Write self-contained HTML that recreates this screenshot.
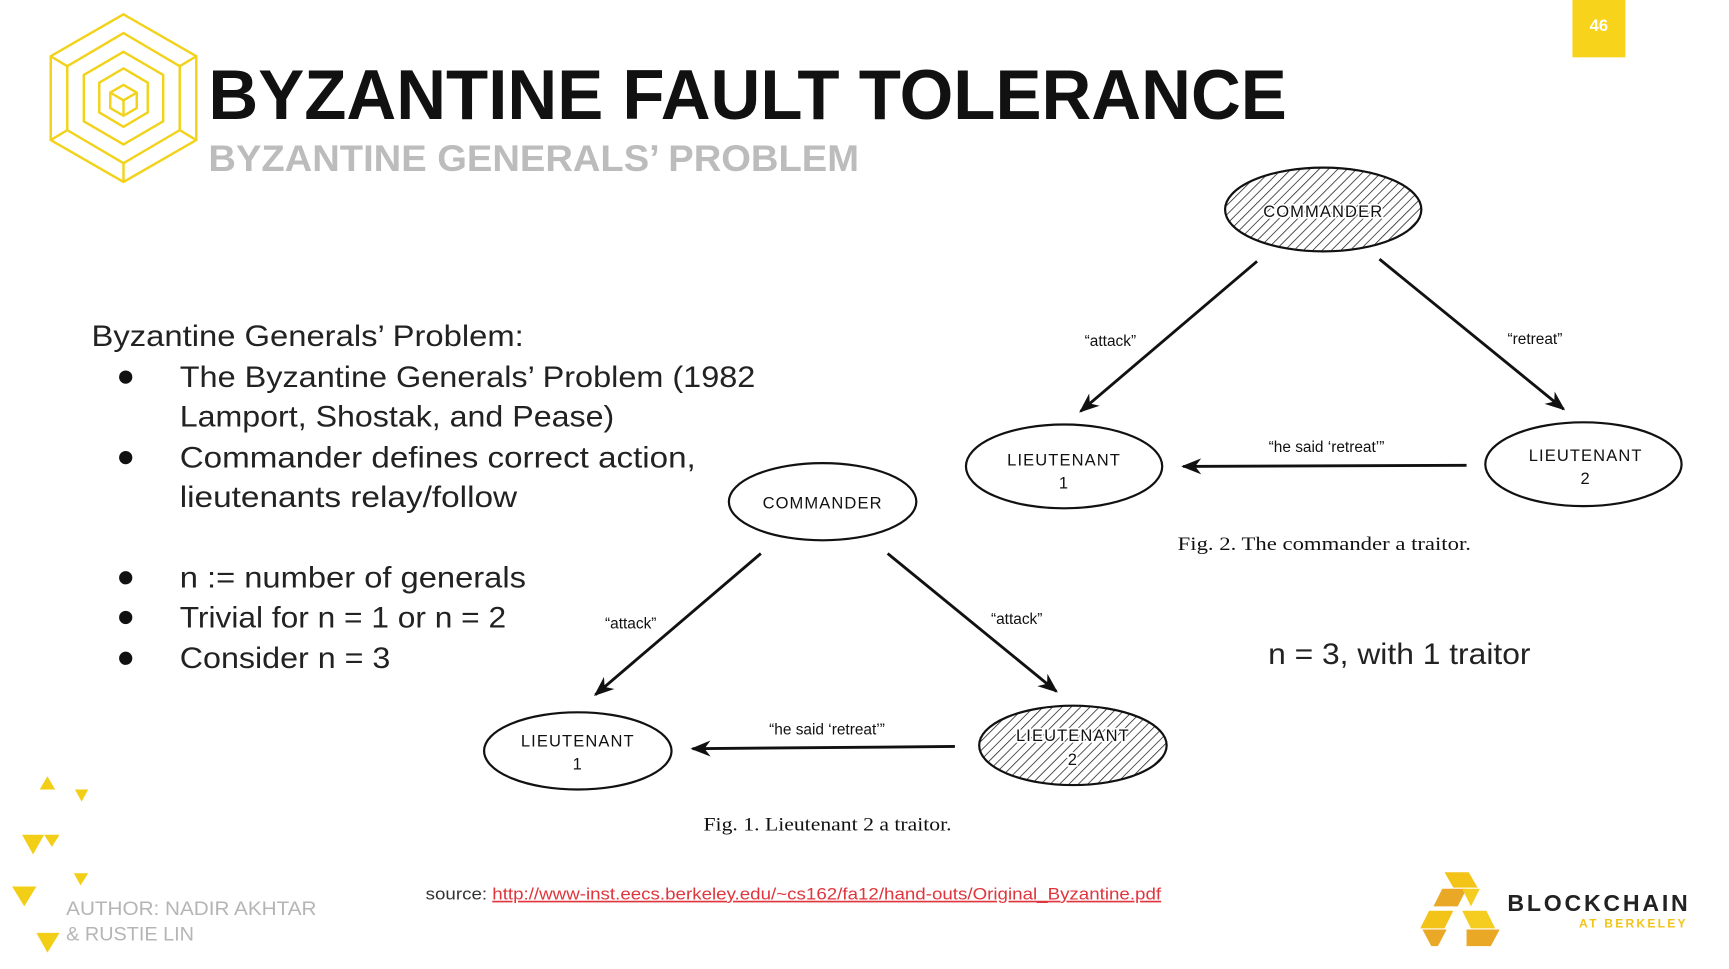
<!DOCTYPE html>
<html><head><meta charset="utf-8"><style>
html,body{margin:0;padding:0;background:#fff;}
svg{display:block;}
</style></head><body>
<svg width="1729" height="969" viewBox="0 0 1568 878.8" preserveAspectRatio="none" xmlns="http://www.w3.org/2000/svg">
<defs>
<pattern id="h" width="6" height="6" patternUnits="userSpaceOnUse" patternTransform="rotate(45)">
<rect width="6" height="6" fill="#fff"/><line x1="0" y1="0" x2="0" y2="6" stroke="#222" stroke-width="1.4"/>
</pattern>
<marker id="a" viewBox="0 0 10 10" refX="9" refY="5" markerWidth="7" markerHeight="7" orient="auto"><path d="M0,1 L10,5 L0,9 L3,5z" fill="#111"/></marker>
</defs>
<rect width="1568" height="880" fill="#fff"/>
<g fill="none" stroke="#f2d21a" stroke-width="2.2">
<polygon points="112,13 178,51 178,127 112,165 46,127 46,51"/>
<polygon points="112,30 163,60 163,118 112,148 61,118 61,60"/>
<polygon points="112,47 148,68 148,110 112,131 76,110 76,68"/>
<polygon points="112,62 134,75 134,102 112,115 90,102 90,75"/>
<polygon points="112,77 124,84 124,98 112,105 100,98 100,84"/>
<path d="M100,84 L112,91 L124,84 M112,91 L112,105"/>
<path d="M46,51 L61,60 M178,51 L163,60 M46,127 L61,118 M178,127 L163,118 M112,165 L112,148"/>
</g>
<text x="189" y="108" font-family="Liberation Sans, sans-serif" font-weight="bold" font-size="64" fill="#111" textLength="978" lengthAdjust="spacingAndGlyphs">BYZANTINE FAULT TOLERANCE</text>
<text x="189" y="155" font-family="Liberation Sans, sans-serif" font-weight="bold" font-size="34" fill="#bcbcbc" textLength="590" lengthAdjust="spacingAndGlyphs">BYZANTINE GENERALS’ PROBLEM</text>
<rect x="1426" y="0" width="48" height="52" fill="#f7d31b"/>
<text x="1450" y="28" text-anchor="middle" font-family="Liberation Sans, sans-serif" font-weight="bold" font-size="15" fill="#fff">46</text>
<g font-family="Liberation Sans, sans-serif" font-size="27" fill="#222">
<text x="83" y="314" textLength="392" lengthAdjust="spacingAndGlyphs">Byzantine Generals’ Problem:</text>
<text x="163" y="351" textLength="522" lengthAdjust="spacingAndGlyphs">The Byzantine Generals’ Problem (1982</text>
<text x="163" y="387" textLength="394" lengthAdjust="spacingAndGlyphs">Lamport, Shostak, and Pease)</text>
<text x="163" y="424" textLength="468" lengthAdjust="spacingAndGlyphs">Commander defines correct action,</text>
<text x="163" y="460" textLength="306" lengthAdjust="spacingAndGlyphs">lieutenants relay/follow</text>
<text x="163" y="533" textLength="314" lengthAdjust="spacingAndGlyphs">n := number of generals</text>
<text x="163" y="569" textLength="296" lengthAdjust="spacingAndGlyphs">Trivial for n = 1 or n = 2</text>
<text x="163" y="606" textLength="191" lengthAdjust="spacingAndGlyphs">Consider n = 3</text>
<text x="1150" y="602" textLength="238" lengthAdjust="spacingAndGlyphs">n = 3, with 1 traitor</text>
</g>
<g fill="#111"><circle cx="114" cy="342" r="6"/><circle cx="114" cy="415" r="6"/><circle cx="114" cy="524" r="6"/><circle cx="114" cy="560" r="6"/><circle cx="114" cy="597" r="6"/></g>
<g stroke="#111" stroke-width="2" fill="#fff">
<ellipse cx="746" cy="455" rx="85" ry="35"/>
<ellipse cx="524" cy="681" rx="85" ry="35"/>
<ellipse cx="973" cy="676" rx="85" ry="36" fill="url(#h)"/>
<ellipse cx="1200" cy="190" rx="89" ry="38" fill="url(#h)"/>
<ellipse cx="965" cy="423" rx="89" ry="38"/>
<ellipse cx="1436" cy="421" rx="89" ry="38"/>
</g>
<g stroke="#111" stroke-width="2.6" marker-end="url(#a)">
<line x1="690" y1="502" x2="540" y2="630"/>
<line x1="805" y1="502" x2="958" y2="627"/>
<line x1="866" y1="677" x2="628" y2="679"/>
<line x1="1140" y1="237" x2="980" y2="373"/>
<line x1="1251" y1="235" x2="1418" y2="371"/>
<line x1="1330" y1="422" x2="1073" y2="423"/>
</g>
<g font-family="Liberation Sans, sans-serif" font-size="15" fill="#111" text-anchor="middle" letter-spacing="1">
<text x="746" y="461">COMMANDER</text>
<text x="524" y="677">LIEUTENANT</text><text x="524" y="698">1</text>
<text x="973" y="672" stroke="#fff" stroke-width="3" paint-order="stroke">LIEUTENANT</text><text x="973" y="694" stroke="#fff" stroke-width="3" paint-order="stroke">2</text>
<text x="1200" y="197" stroke="#fff" stroke-width="3" paint-order="stroke">COMMANDER</text>
<text x="965" y="422">LIEUTENANT</text><text x="965" y="443">1</text>
<text x="1438" y="418">LIEUTENANT</text><text x="1438" y="439">2</text>
</g>
<g font-family="Liberation Sans, sans-serif" font-size="14" fill="#111" text-anchor="middle">
<text x="572" y="570">“attack”</text>
<text x="922" y="566">“attack”</text>
<text x="750" y="666">“he said ‘retreat’”</text>
<text x="1007" y="314">“attack”</text>
<text x="1392" y="312">“retreat”</text>
<text x="1203" y="410">“he said ‘retreat’”</text>
</g>
<g font-family="Liberation Serif, serif" font-size="17" fill="#111">
<text x="638" y="753" textLength="225" lengthAdjust="spacingAndGlyphs">Fig. 1.   Lieutenant 2 a traitor.</text>
<text x="1068" y="499" textLength="266" lengthAdjust="spacingAndGlyphs">Fig. 2.   The commander a traitor.</text>
</g>
<text x="386" y="816" font-family="Liberation Sans, sans-serif" font-size="15" fill="#333" textLength="667" lengthAdjust="spacingAndGlyphs">source: <tspan fill="#e0353d" text-decoration="underline">http://www-inst.eecs.berkeley.edu/~cs162/fa12/hand-outs/Original_Byzantine.pdf</tspan></text>
<g font-family="Liberation Sans, sans-serif" font-size="18" fill="#b5b5b5">
<text x="60" y="830" textLength="227" lengthAdjust="spacingAndGlyphs">AUTHOR: NADIR AKHTAR</text>
<text x="60" y="853">&amp; RUSTIE LIN</text>
</g>
<g fill="#f2ce16">
<polygon points="43,704 50,716 36,716"/>
<polygon points="68,716 80,716 74,727"/>
<polygon points="20,757 40,757 30,775"/>
<polygon points="40,757 54,757 47,768"/>
<polygon points="67,792 80,792 73,803"/>
<polygon points="11,804 33,804 22,822"/>
<polygon points="33,846 54,846 43,864"/>
</g>
<g>
<polygon points="1310,791 1332,791 1340,805 1318,805" fill="#f3c318"/>
<polygon points="1308,806 1330,806 1322,822 1300,822" fill="#e9a825"/>
<polygon points="1326,806 1342,806 1334,822" fill="#f5cd20"/>
<polygon points="1296,826 1318,826 1310,842 1288,842" fill="#f3c318"/>
<polygon points="1290,843 1312,843 1304,858 1298,858" fill="#e9a825"/>
<polygon points="1326,826 1348,826 1356,842 1334,842" fill="#f5cd20"/>
<polygon points="1330,843 1360,843 1352,858 1330,858" fill="#e9a825"/>
</g>
<text x="1367" y="826" font-family="Liberation Sans, sans-serif" font-weight="bold" font-size="21" fill="#222" letter-spacing="2.5">BLOCKCHAIN</text>
<text x="1432" y="841" font-family="Liberation Sans, sans-serif" font-weight="bold" font-size="11" fill="#f2c41a" letter-spacing="2">AT BERKELEY</text>
</svg>
</body></html>
